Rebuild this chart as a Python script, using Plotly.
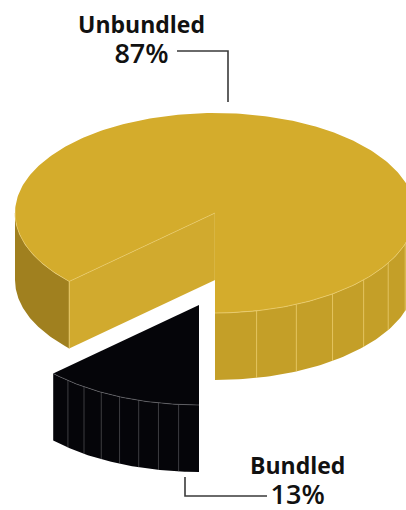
import numpy as np
import plotly.graph_objects as go

# ---- data ----
labels = ["Unbundled", "Bundled"]
shares = [87, 13]
pct_text = ["87%", "13%"]

# ---- style / geometry ----
W, Hgt = 406, 510
CX, CY = 215, 213          # centre of top ellipse (pixels)
A, B = 200, 100            # ellipse semi-axes
DEPTH = 67                 # thickness of pie
EXPLODE = (-16, 92)        # offset of bundled slice
GOLD_TOP = "#D4AC2C"
GOLD_FACE = "#D1AA2E"
GOLD_RIGHT = "#C49F28"
GOLD_LEFT = "#A0801F"
BLACK = "#050509"
EDGE_GOLD = "rgba(235,205,110,0.8)"
EDGE_BLACK = "rgba(120,120,125,0.7)"

total = sum(shares)
# bundled starts at angle 90deg (pointing to viewer), clockwise on screen
b_start = 90.0
b_end = b_start + 360.0 * shares[1] / total
u_start = b_end
u_end = b_start + 360.0


def pt(t_deg, cx, cy, dz=0.0):
    t = np.radians(t_deg)
    return cx + A * np.cos(t), cy + B * np.sin(t) + dz


def arc(t0, t1, cx, cy, dz=0.0, n=80):
    ts = np.linspace(t0, t1, n)
    xs, ys = pt(ts, cx, cy, dz)
    return list(xs), list(ys)


def side(t0, t1, cx, cy):
    x1, y1 = arc(t0, t1, cx, cy)
    x2, y2 = arc(t1, t0, cx, cy, DEPTH)
    return x1 + x2 + [x1[0]], y1 + y2 + [y1[0]]


traces = []


def poly(xs, ys, fill, line_color=None, lw=0):
    traces.append(go.Scatter(
        x=xs, y=ys, mode="lines", fill="toself", fillcolor=fill,
        line=dict(color=line_color or fill, width=lw),
        hoverinfo="skip", showlegend=False))


def seg(xs, ys, color, lw=1):
    traces.append(go.Scatter(
        x=xs, y=ys, mode="lines", line=dict(color=color, width=lw),
        hoverinfo="skip", showlegend=False))


# ---- Unbundled (gold) slice ----
# right front side: angles 0..90
xs, ys = side(0, 90, CX, CY)
poly(xs, ys, GOLD_RIGHT)
for t in np.arange(90 - 12, 0, -12):
    x0, y0 = pt(t, CX, CY)
    seg([x0, x0], [y0, y0 + DEPTH], EDGE_GOLD, 1)
# left front side: u_start..180
xs, ys = side(u_start, 180, CX, CY)
poly(xs, ys, GOLD_LEFT)
# cut face at u_start
px, py = pt(u_start, CX, CY)
poly([CX, px, px, CX, CX], [CY, py, py + DEPTH, CY + DEPTH, CY], GOLD_FACE)
seg([px, px], [py, py + DEPTH], EDGE_GOLD, 1)
seg([CX, CX], [CY, CY + DEPTH], EDGE_GOLD, 0.8)
# top
xs, ys = arc(u_start, u_end, CX, CY, n=300)
poly([CX] + xs + [CX], [CY] + ys + [CY], GOLD_TOP)
seg([CX, px], [CY, py], EDGE_GOLD, 0.8)
xs, ys = arc(0, 90, CX, CY)
seg(xs, ys, EDGE_GOLD, 1)
xs, ys = arc(u_start, 180, CX, CY)
seg(xs, ys, EDGE_GOLD, 0.8)

# ---- Bundled (black) slice ----
bx, by = CX + EXPLODE[0], CY + EXPLODE[1]
xs, ys = side(b_start, b_end, bx, by)
poly(xs, ys, BLACK)
nb = 9
for t in np.linspace(b_start, b_end, nb)[1:-1]:
    x0, y0 = pt(t, bx, by)
    seg([x0, x0], [y0, y0 + DEPTH], EDGE_BLACK, 0.7)
xs, ys = arc(b_start, b_end, bx, by)
poly([bx] + xs + [bx], [by] + ys + [by], BLACK)
seg(xs, ys, EDGE_BLACK, 0.8)

fig = go.Figure(traces)

# ---- labels & leader lines ----
font_lbl = dict(family="Open Sans", size=23, color="#111111", weight=600)


def label_text(name, pct):
    return ("<b>" + name + "</b><br>"
            "<span style='font-size:27px'>" + pct + "</span>")


annos = [
    dict(x=141, y=7, yanchor="top", text=label_text(labels[0], pct_text[0])),
    dict(x=297, y=510, yanchor="bottom", yshift=-3,
         text=label_text(labels[1], pct_text[1])),
]
for a in annos:
    a.update(xref="x", yref="y", showarrow=False, xanchor="center",
             align="center", font=font_lbl, borderpad=0)

lc = dict(color="#3a3a3a", width=1.6)
shapes = [
    dict(type="path", path="M 177 51 L 228 51 L 228 102", line=lc, xref="x", yref="y"),
    dict(type="path", path="M 185 477 L 185 496 L 267 496", line=lc, xref="x", yref="y"),
]

fig.update_layout(
    width=W, height=Hgt,
    margin=dict(l=0, r=0, t=0, b=0),
    paper_bgcolor="white", plot_bgcolor="white",
    xaxis=dict(range=[0, W], visible=False, fixedrange=True),
    yaxis=dict(range=[Hgt, 0], visible=False, fixedrange=True),
    annotations=annos, shapes=shapes,
    showlegend=False,
)
fig.write_html("out.html", config={"displayModeBar": False})
